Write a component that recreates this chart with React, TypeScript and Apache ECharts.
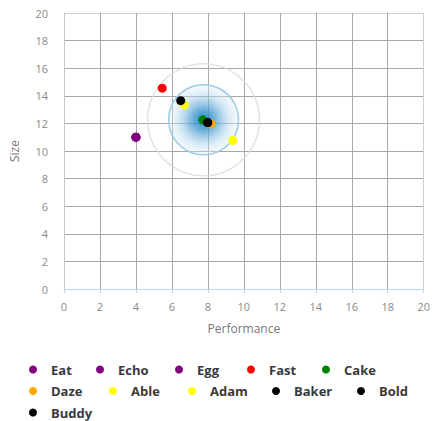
import React, { useEffect, useRef } from "react";
import * as echarts from "echarts";

// Series names, colours and (performance, size) values
const seriesNames = ["Eat", "Echo", "Egg", "Fast", "Cake", "Daze", "Able", "Adam", "Baker", "Bold", "Buddy"];
const seriesColors = ["#800080", "#800080", "#800080", "#ff0000", "#008000", "#ffa500", "#ffff00", "#ffff00", "#000000", "#000000", "#000000"];
const performance = [4.0, 4.0, 4.0, 5.46, 7.72, 8.18, 6.69, 9.39, 6.49, 7.99, 7.99];
const size = [11.0, 11.0, 11.0, 14.55, 12.26, 11.97, 13.34, 10.76, 13.65, 12.06, 12.06];

// Centre of the spread rings
const spreadCenter = [7.76, 12.26];

const legendRows = [
  ["Eat", "Echo", "Egg", "Fast", "Cake"],
  ["Daze", "Able", "Adam", "Baker", "Bold"],
  ["Buddy"],
];
// Horizontal position of each legend marker within its row
const legendColumns = [
  [33, 100, 179, 251, 326],
  [33, 113, 192, 276, 361],
  [33],
];

const xTicks = { min: 0, max: 20, interval: 2 };
const yTicks = { min: 0, max: 20, interval: 2 };

const FONT = "'Open Sans', 'Noto Sans', sans-serif";

export default function App() {
  const ref = useRef<HTMLDivElement>(null);

  useEffect(() => {
    if (!ref.current) return;
    const chart = echarts.init(ref.current, undefined, { renderer: "svg" });

    const gridLineColors = ["#a8a8a8", "#a8a8a8", "#a8a8a8", "#a8a8a8", "#a8a8a8", "#a8a8a8", "#a8a8a8", "#a8a8a8", "#a8a8a8", "#a8a8a8", "#d0d0d0"];

    const pointSeries = seriesNames.map((name, i) => ({
      name,
      type: "scatter",
      symbol: "circle",
      symbolSize: 9,
      itemStyle: { color: seriesColors[i], opacity: 1 },
      data: [[performance[i], size[i]]],
      z: 5,
    }));

    const ringSeries = [
      {
        name: "outer-ring",
        type: "scatter",
        symbol: "circle",
        symbolSize: 112,
        silent: true,
        itemStyle: { color: "rgba(0,0,0,0)", borderColor: "#dcdcdc", borderWidth: 1.5 },
        data: [spreadCenter],
        z: 2,
      },
      {
        name: "inner-ring",
        type: "scatter",
        symbol: "circle",
        symbolSize: 70,
        silent: true,
        itemStyle: {
          color: new echarts.graphic.RadialGradient(0.5, 0.5, 0.5, [
            { offset: 0, color: "rgba(20,130,190,1)" },
            { offset: 0.35, color: "rgba(80,160,210,0.75)" },
            { offset: 0.75, color: "rgba(180,215,238,0.45)" },
            { offset: 1, color: "rgba(225,238,248,0.35)" },
          ]),
          borderColor: "#9ccbe6",
          borderWidth: 1.5,
          opacity: 1,
        },
        data: [spreadCenter],
        z: 3,
      },
    ];

    const legendText = {
      color: "#3a3a3a",
      fontSize: 13,
      fontWeight: "bold",
      fontFamily: FONT,
      padding: [0, 0, 0, 2],
    };

    // One legend component per entry, laid out in rows
    const legends: any[] = [];
    legendRows.forEach((row, r) => {
      row.forEach((name, c) => {
        legends.push({
          orient: "horizontal",
          left: legendColumns[r][c] - 4,
          top: 363 + r * 21.5,
          padding: 0,
          itemWidth: 22,
          itemHeight: 8,
          icon: "circle",
          selectedMode: false,
          textStyle: legendText,
          data: [name],
        });
      });
    });

    chart.setOption({
      animation: false,
      backgroundColor: "#ffffff",
      grid: { left: 62, right: 3, top: 13, bottom: 132, containLabel: false },
      legend: legends,
      xAxis: {
        type: "value",
        min: xTicks.min,
        max: xTicks.max,
        interval: xTicks.interval,
        name: "Performance",
        nameLocation: "middle",
        nameGap: 33,
        nameTextStyle: { color: "#777777", fontSize: 12, fontFamily: FONT },
        axisLine: { show: true, lineStyle: { color: "#c3d3ee", width: 1 } },
        axisTick: { show: true, length: 4, lineStyle: { color: "#c3d3ee" } },
        axisLabel: { color: "#8a8a8a", fontSize: 11, margin: 12, fontFamily: FONT },
        splitLine: { show: true, lineStyle: { color: gridLineColors, width: 1 } },
      },
      yAxis: {
        type: "value",
        min: yTicks.min,
        max: yTicks.max,
        interval: yTicks.interval,
        name: "Size",
        nameLocation: "middle",
        nameGap: 44,
        nameRotate: 90,
        nameTextStyle: { color: "#777777", fontSize: 12, fontFamily: FONT },
        axisLine: { show: true, lineStyle: { color: "#c8c8c8", width: 1 } },
        axisTick: { show: false },
        axisLabel: { color: "#8a8a8a", fontSize: 11, margin: 16, fontFamily: FONT },
        splitLine: { show: true, lineStyle: { color: gridLineColors, width: 1 } },
      },
      series: [...ringSeries, ...pointSeries],
    });

    return () => chart.dispose();
  }, []);

  return (
    <div
      ref={ref}
      style={{ position: "fixed", left: 0, top: 0, width: 433, height: 421, background: "#fff" }}
    />
  );
}
